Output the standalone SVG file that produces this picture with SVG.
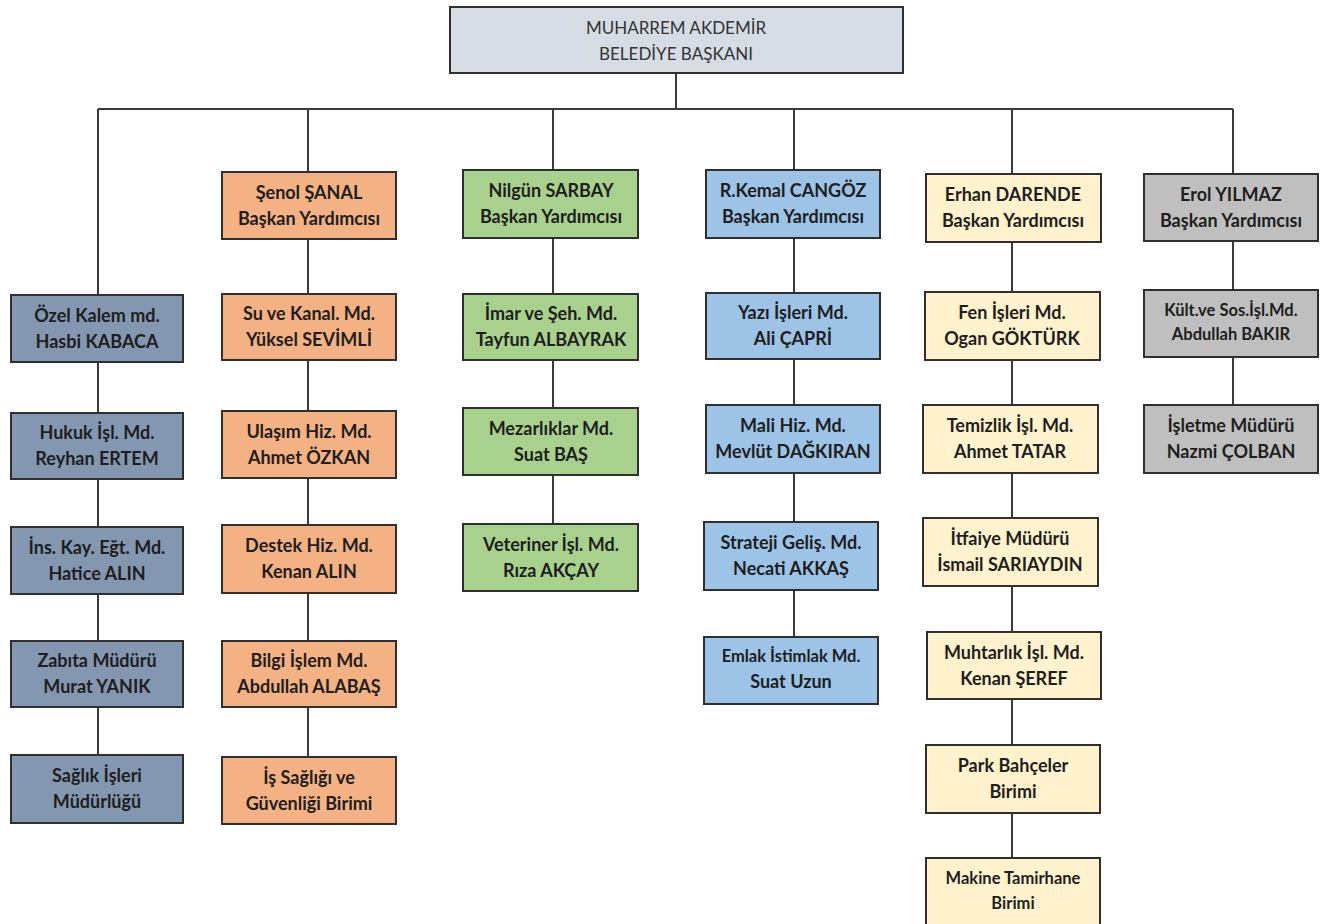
<svg xmlns="http://www.w3.org/2000/svg" width="1325" height="924" viewBox="0 0 1325 924">
<style>
.bx{stroke:#2f2f2f;stroke-width:2}
.c1{fill:#8497B0}.c2{fill:#F4B183}.c3{fill:#A9D18E}.c4{fill:#9DC3E6}.c5{fill:#FFF2CC}.c6{fill:#BFBFBF}.c0{fill:#D6DCE4}
text{font-family:Lato,"Open Sans","Liberation Sans",sans-serif;font-weight:bold;font-size:18px;fill:#1e1e1e;text-anchor:middle}
text.sm{font-size:16.5px}
text.top{font-weight:normal;font-size:17px;fill:#333}
.ln{stroke:#3a3a3a;stroke-width:2;fill:none}
</style>
<rect width="1325" height="924" fill="#fff"/>
<g id="connectors">
<path class="ln" d="M676,73V109M98,109H1233"/>
<path class="ln" d="M98,109V295M98,362V413M98,479V527M98,594V641M98,707V755"/>
<path class="ln" d="M308,109V172M308,239V294M308,360V411M308,478V525M308,593V641M308,707V757"/>
<path class="ln" d="M553,109V170M553,238V294M553,360V408M553,475V524"/>
<path class="ln" d="M794,109V170M794,238V293M794,359V405M794,473V522M794,590V637"/>
<path class="ln" d="M1012,109V174M1012,242V292M1012,360V405M1012,473V518M1012,586V632M1012,699V745M1012,813V858"/>
<path class="ln" d="M1233,109V174M1233,241V290M1233,357V405"/>
</g>
<g id="n-baskan"><rect class="bx c0" x="450" y="7" width="453" height="66"/><text class="top" x="676" y="34">MUHARREM AKDEMİR</text><text class="top" x="676" y="60">BELEDİYE BAŞKANI</text></g>

<g id="n-ozel"><rect class="bx c1" x="11" y="295" width="172" height="67"/><text x="97" y="322">Özel Kalem md.</text><text x="97" y="348">Hasbi KABACA</text></g>
<g id="n-hukuk"><rect class="bx c1" x="11" y="413" width="172" height="66"/><text x="97" y="439">Hukuk İşl. Md.</text><text x="97" y="465">Reyhan ERTEM</text></g>
<g id="n-ins"><rect class="bx c1" x="11" y="527" width="172" height="67"/><text x="97" y="554">İns. Kay. Eğt. Md.</text><text x="97" y="580">Hatice ALIN</text></g>
<g id="n-zabita"><rect class="bx c1" x="11" y="641" width="172" height="66"/><text x="97" y="667">Zabıta Müdürü</text><text x="97" y="693">Murat YANIK</text></g>
<g id="n-saglik"><rect class="bx c1" x="11" y="755" width="172" height="68"/><text x="97" y="782">Sağlık İşleri</text><text x="97" y="808">Müdürlüğü</text></g>

<g id="n-senol"><rect class="bx c2" x="222" y="172" width="174" height="67"/><text x="309" y="199">Şenol ŞANAL</text><text x="309" y="225">Başkan Yardımcısı</text></g>
<g id="n-su"><rect class="bx c2" x="222" y="294" width="174" height="66"/><text x="309" y="320">Su ve Kanal. Md.</text><text x="309" y="346">Yüksel SEVİMLİ</text></g>
<g id="n-ulasim"><rect class="bx c2" x="222" y="411" width="174" height="67"/><text x="309" y="438">Ulaşım Hiz. Md.</text><text x="309" y="464">Ahmet ÖZKAN</text></g>
<g id="n-destek"><rect class="bx c2" x="222" y="525" width="174" height="68"/><text x="309" y="552">Destek Hiz. Md.</text><text x="309" y="578">Kenan ALIN</text></g>
<g id="n-bilgi"><rect class="bx c2" x="222" y="641" width="174" height="66"/><text x="309" y="667">Bilgi İşlem Md.</text><text x="309" y="693">Abdullah ALABAŞ</text></g>
<g id="n-is"><rect class="bx c2" x="222" y="757" width="174" height="67"/><text x="309" y="784">İş Sağlığı ve</text><text x="309" y="810">Güvenliği Birimi</text></g>

<g id="n-nilgun"><rect class="bx c3" x="463" y="170" width="175" height="68"/><text x="551" y="197">Nilgün SARBAY</text><text x="551" y="223">Başkan Yardımcısı</text></g>
<g id="n-imar"><rect class="bx c3" x="463" y="294" width="175" height="66"/><text x="551" y="320">İmar ve Şeh. Md.</text><text x="551" y="346">Tayfun ALBAYRAK</text></g>
<g id="n-mezar"><rect class="bx c3" x="463" y="408" width="175" height="67"/><text x="551" y="435">Mezarlıklar Md.</text><text x="551" y="461">Suat BAŞ</text></g>
<g id="n-veteriner"><rect class="bx c3" x="463" y="524" width="175" height="67"/><text x="551" y="551">Veteriner İşl. Md.</text><text x="551" y="577">Rıza AKÇAY</text></g>

<g id="n-kemal"><rect class="bx c4" x="706" y="170" width="174" height="68"/><text x="793" y="197">R.Kemal CANGÖZ</text><text x="793" y="223">Başkan Yardımcısı</text></g>
<g id="n-yazi"><rect class="bx c4" x="706" y="293" width="174" height="66"/><text x="793" y="319">Yazı İşleri Md.</text><text x="793" y="345">Ali ÇAPRİ</text></g>
<g id="n-mali"><rect class="bx c4" x="706" y="405" width="174" height="68"/><text x="793" y="432">Mali Hiz. Md.</text><text x="793" y="458">Mevlüt DAĞKIRAN</text></g>
<g id="n-strateji"><rect class="bx c4" x="704" y="522" width="174" height="68"/><text x="791" y="549">Strateji Geliş. Md.</text><text x="791" y="575">Necati AKKAŞ</text></g>
<g id="n-emlak"><rect class="bx c4" x="704" y="637" width="174" height="67"/><text class="sm" x="791" y="662">Emlak İstimlak Md.</text><text x="791" y="688">Suat Uzun</text></g>

<g id="n-erhan"><rect class="bx c5" x="926" y="174" width="175" height="68"/><text x="1013" y="201">Erhan DARENDE</text><text x="1013" y="227">Başkan Yardımcısı</text></g>
<g id="n-fen"><rect class="bx c5" x="925" y="292" width="175" height="68"/><text x="1012" y="319">Fen İşleri Md.</text><text x="1012" y="345">Ogan GÖKTÜRK</text></g>
<g id="n-temizlik"><rect class="bx c5" x="923" y="405" width="175" height="68"/><text x="1010" y="432">Temizlik İşl. Md.</text><text x="1010" y="458">Ahmet TATAR</text></g>
<g id="n-itfaiye"><rect class="bx c5" x="923" y="518" width="175" height="68"/><text x="1010" y="545">İtfaiye Müdürü</text><text x="1010" y="571">İsmail SARIAYDIN</text></g>
<g id="n-muhtar"><rect class="bx c5" x="927" y="632" width="174" height="67"/><text x="1014" y="659">Muhtarlık İşl. Md.</text><text x="1014" y="685">Kenan ŞEREF</text></g>
<g id="n-park"><rect class="bx c5" x="926" y="745" width="174" height="68"/><text x="1013" y="772">Park Bahçeler</text><text x="1013" y="798">Birimi</text></g>
<g id="n-makine"><rect class="bx c5" x="926" y="858" width="174" height="70"/><text class="sm" x="1013" y="884">Makine Tamirhane</text><text class="sm" x="1013" y="909">Birimi</text></g>

<g id="n-erol"><rect class="bx c6" x="1144" y="174" width="174" height="67"/><text x="1231" y="201">Erol YILMAZ</text><text x="1231" y="227">Başkan Yardımcısı</text></g>
<g id="n-kult"><rect class="bx c6" x="1144" y="290" width="174" height="67"/><text class="sm" x="1231" y="316">Kült.ve Sos.İşl.Md.</text><text class="sm" x="1231" y="340">Abdullah BAKIR</text></g>
<g id="n-isletme"><rect class="bx c6" x="1144" y="405" width="174" height="68"/><text x="1231" y="432">İşletme Müdürü</text><text x="1231" y="458">Nazmi ÇOLBAN</text></g>
</svg>
